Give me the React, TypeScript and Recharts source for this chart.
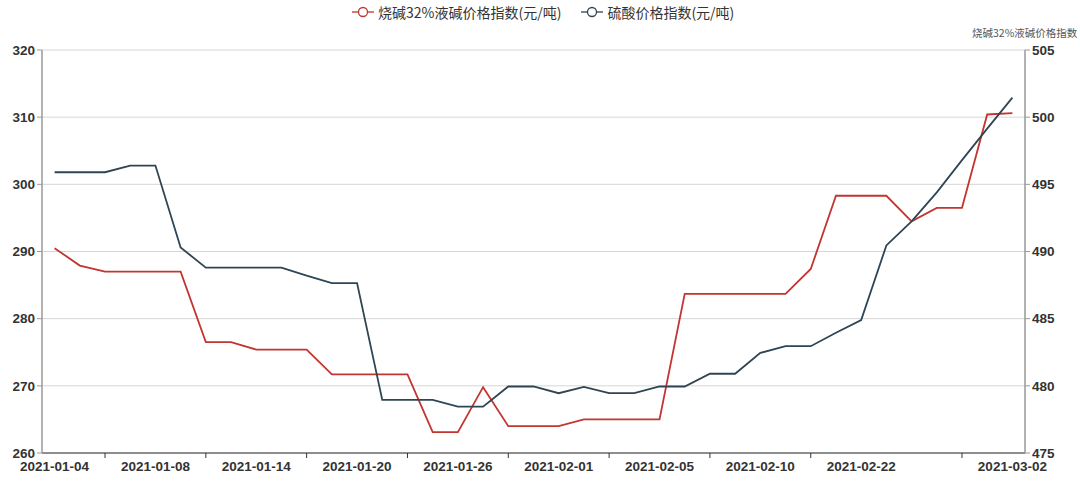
import React from 'react';
import { LineChart, Line, XAxis, YAxis, CartesianGrid } from 'recharts';

const dates = [
  '2021-01-04', '2021-01-05', '2021-01-06', '2021-01-07', '2021-01-08',
  '2021-01-11', '2021-01-12', '2021-01-13', '2021-01-14', '2021-01-15',
  '2021-01-18', '2021-01-19', '2021-01-20', '2021-01-21', '2021-01-22',
  '2021-01-25', '2021-01-26', '2021-01-27', '2021-01-28', '2021-01-29',
  '2021-02-01', '2021-02-02', '2021-02-03', '2021-02-04', '2021-02-05',
  '2021-02-07', '2021-02-08', '2021-02-09', '2021-02-10', '2021-02-18',
  '2021-02-19', '2021-02-20', '2021-02-22', '2021-02-23', '2021-02-24',
  '2021-02-25', '2021-02-26', '2021-03-01', '2021-03-02',
];

// 烧碱32%液碱价格指数 (right axis)
const sodaValues = [
  490.25, 488.95, 488.5, 488.5, 488.5, 488.5, 483.25, 483.25, 482.7, 482.7,
  482.7, 480.85, 480.85, 480.85, 480.85, 476.55, 476.55, 479.9, 477.0, 477.0,
  477.0, 477.5, 477.5, 477.5, 477.5, 486.85, 486.85, 486.85, 486.85, 486.85,
  488.7, 494.15, 494.15, 494.15, 492.25, 493.25, 493.25, 500.2, 500.3,
];

// 硫酸价格指数 (left axis)
const acidValues = [
  301.8, 301.8, 301.8, 302.8, 302.8, 290.6, 287.6, 287.6, 287.6, 287.6,
  286.4, 285.3, 285.3, 267.9, 267.9, 267.9, 266.9, 266.9, 269.9, 269.9,
  268.9, 269.85, 268.9, 268.9, 269.9, 269.9, 271.8, 271.8, 274.9, 275.9,
  275.9, 277.9, 279.8, 290.9, 294.5, 298.8, 303.6, 308.3, 312.9,
];

const seriesNames = ['烧碱32%液碱价格指数(元/吨)', '硫酸价格指数(元/吨)'];
const seriesColors = ['#c23531', '#2f4554'];
const rightAxisName = '烧碱32%液碱价格指数';

const leftTicks = [260, 270, 280, 290, 300, 310, 320];
const rightTicks = [475, 480, 485, 490, 495, 500, 505];

const labelDates = [
  '2021-01-04', '2021-01-08', '2021-01-14', '2021-01-20', '2021-01-26',
  '2021-02-01', '2021-02-05', '2021-02-10', '2021-02-22', '2021-03-02',
];
const markDates = [
  '2021-01-06', '2021-01-12', '2021-01-18', '2021-01-22', '2021-01-28',
  '2021-02-03', '2021-02-08', '2021-02-19', '2021-02-26',
];

const data = dates.map((d, i) => ({ date: d, soda: sodaValues[i], acid: acidValues[i] }));
const xTicks = dates.filter((d) => labelDates.includes(d) || markDates.includes(d));

const FONT = '"Liberation Sans", Arial, sans-serif';
const CJK = '"Noto Sans CJK SC", "Noto Sans", sans-serif';

const XTick = (props: any) => {
  const { x, y, payload } = props;
  const v = payload.value;
  if (labelDates.includes(v)) {
    return (
      <text x={x} y={y + 1.5} dy="0.71em" textAnchor="middle" fill="#333" fontSize={13.5} fontWeight="bold" fontFamily={FONT}>
        {v}
      </text>
    );
  }
  return <line x1={x} x2={x} y1={y - 7} y2={y - 2} stroke="#333" strokeWidth={1} />;
};

const LegendIcon = ({ color }: { color: string }) => (
  <svg width={22} height={14} style={{ marginRight: 4 }}>
    <line x1={0} x2={22} y1={7} y2={7} stroke={color} strokeWidth={1.3} />
    <circle cx={11} cy={7} r={4.5} fill="#fff" stroke={color} strokeWidth={1.3} />
  </svg>
);

export default function App() {
  return (
    <div style={{ position: 'absolute', left: 0, top: 0, width: 1080, height: 481, background: '#fff' }}>
      <div
        style={{
          position: 'absolute', left: 352, top: 2, display: 'flex', alignItems: 'center',
          fontFamily: CJK, fontSize: 14, color: '#333', whiteSpace: 'nowrap',
        }}
      >
        <LegendIcon color={seriesColors[0]} />
        <span style={{ marginRight: 20 }}>{seriesNames[0]}</span>
        <LegendIcon color={seriesColors[1]} />
        <span>{seriesNames[1]}</span>
      </div>
      <div
        style={{
          position: 'absolute', left: 972, top: 25, fontFamily: CJK, fontSize: 10.5,
          color: '#555', whiteSpace: 'nowrap',
        }}
      >
        {rightAxisName}
      </div>
      <LineChart width={1080} height={481} data={data} margin={{ top: 50, right: 5, bottom: 0, left: 0 }}>
        <CartesianGrid vertical={false} stroke="#d6d6d6" yAxisId="left" />
        <XAxis
          dataKey="date"
          ticks={xTicks}
          interval={0}
          tick={<XTick />}
          tickLine={false}
          tickSize={5}
          tickMargin={2}
          height={28}
          padding={{ left: 12.6, right: 12.6 }}
          axisLine={{ stroke: '#333', strokeWidth: 1 }}
        />
        <YAxis
          yAxisId="left"
          domain={[260, 320]}
          ticks={leftTicks}
          width={42}
          tickSize={5}
          tickMargin={2}
          interval={0}
          axisLine={{ stroke: '#999', strokeWidth: 1.5 }}
          tickLine={{ stroke: '#999' }}
          tick={{ fill: '#333', fontSize: 13.5, fontWeight: 'bold', fontFamily: FONT }}
        />
        <YAxis
          yAxisId="right"
          orientation="right"
          domain={[475, 505]}
          ticks={rightTicks}
          width={50}
          tickSize={5}
          tickMargin={2}
          interval={0}
          axisLine={{ stroke: '#999', strokeWidth: 1.5 }}
          tickLine={{ stroke: '#999' }}
          tick={{ fill: '#333', fontSize: 13.5, fontWeight: 'bold', fontFamily: FONT }}
        />
        <Line
          yAxisId="right"
          dataKey="soda"
          name={seriesNames[0]}
          stroke={seriesColors[0]}
          strokeWidth={1.8}
          dot={false}
          isAnimationActive={false}
        />
        <Line
          yAxisId="left"
          dataKey="acid"
          name={seriesNames[1]}
          stroke={seriesColors[1]}
          strokeWidth={1.8}
          dot={false}
          isAnimationActive={false}
        />
      </LineChart>
    </div>
  );
}
